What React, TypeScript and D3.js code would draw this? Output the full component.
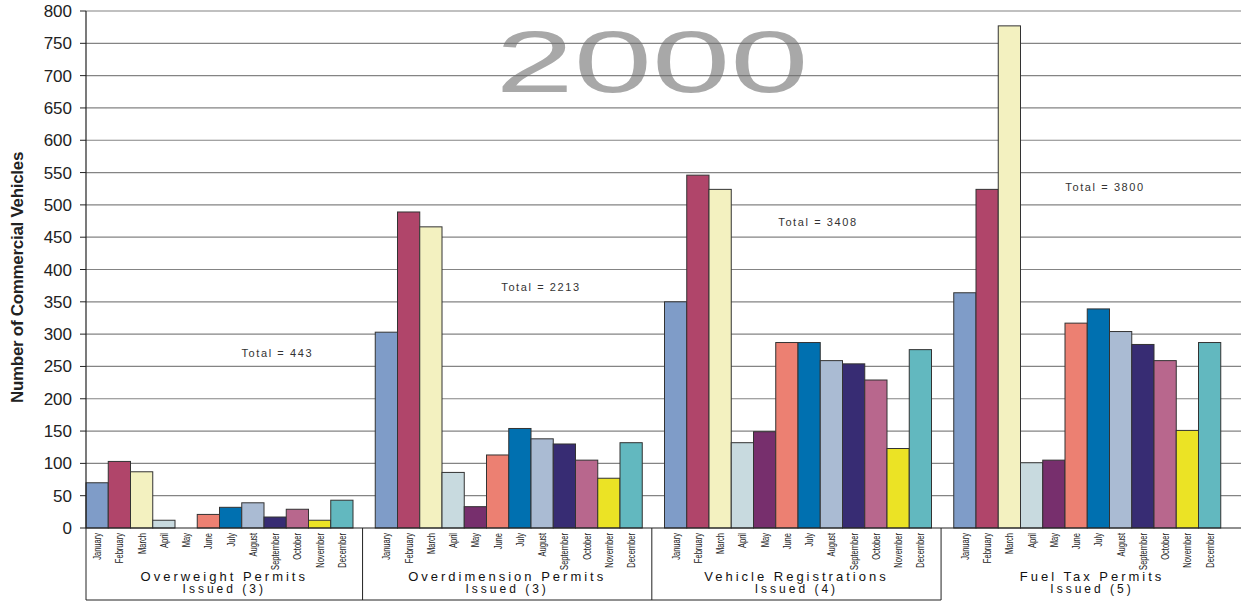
import * as d3 from 'd3';

// months shown under each group
const months = ['January', 'February', 'March', 'April', 'May', 'June', 'July', 'August', 'September', 'October', 'November', 'December'];
const monthColors = ['#7f9cc8', '#b0456a', '#f3f1c0', '#c8dadf', '#772f6d', '#ec8072', '#0070b0', '#aabbd3', '#372c73', '#b8678d', '#ebe325', '#62b8bf'];

const groupTitles = ['Overweight Permits', 'Overdimension Permits', 'Vehicle Registrations', 'Fuel Tax Permits'];
const groupSubtitles = ['Issued (3)', 'Issued (3)', 'Issued (4)', 'Issued (5)'];

// values per month
const overweight = [70, 103, 87, 12, 0, 21, 32, 39, 17, 29, 12, 43];
const overdimension = [303, 489, 466, 86, 33, 113, 154, 138, 130, 105, 77, 132];
const registrations = [350, 546, 524, 132, 149, 287, 287, 259, 254, 229, 123, 276];
const fuelTax = [364, 524, 777, 101, 105, 317, 339, 304, 284, 259, 151, 287];
const seriesByGroup = [overweight, overdimension, registrations, fuelTax];

const totalLabels = ['Total = 443', 'Total = 2213', 'Total = 3408', 'Total = 3800'];
// where each total note sits: slot inside the group, and value on the y axis
const totalSlot = [8.6, 7.45, 6.9, 6.8];
const totalValue = [271, 373, 474, 528];

const yTicks = d3.range(0, 801, 50);
const title = '2000';

const W = 1241;
const H = 602;
const left = 86;
const right = 1243;
const top = 11;
const bottom = 528;

export default function App() {
  const y = d3.scaleLinear().domain([0, 800]).range([bottom, top]);
  const x0 = d3.scaleBand<number>().domain(d3.range(4)).range([left, right]);
  // 13 slots per group, the last one stays empty as a gap
  const x1 = d3.scaleBand<number>().domain(d3.range(13)).range([0, x0.bandwidth()]);
  const slot = x1.bandwidth();
  const dividers = [left, ...d3.range(1, 4).map(g => (x0(g) as number) - slot * 0.57)];
  const font = 'Liberation Sans, Arial, sans-serif';

  return (
    <svg width={W} height={H} style={{ position: 'absolute', left: 0, top: 0, background: '#fff' }}>
      {/* big year title */}
      <text x={652} y={92} textAnchor="middle" fontFamily={font} fontSize={87} fill="#a8a8a8"
        textLength={313} lengthAdjust="spacingAndGlyphs">{title}</text>

      {/* gridlines */}
      {yTicks.filter(t => t > 0).map(t => (
        <line key={t} x1={left} x2={right} y1={y(t)} y2={y(t)} stroke="#6f6f6f" strokeWidth={1.2} opacity={0.85} />
      ))}

      {/* bars */}
      {seriesByGroup.map((vals, g) => (
        <g key={g} transform={`translate(${x0(g)},0)`}>
          {vals.map((v, i) => v > 0 && (
            <rect key={i} x={x1(i)} y={y(v)} width={slot} height={y(0) - y(v)}
              fill={monthColors[i]} stroke="#333" strokeWidth={1} />
          ))}
        </g>
      ))}

      {/* totals */}
      {totalLabels.map((t, g) => (
        <text key={t} x={(x0(g) as number) + totalSlot[g] * slot} y={y(totalValue[g]) + 4}
          textAnchor="middle" fontFamily={font} fontSize={11} letterSpacing={1.6} fill="#333">{t}</text>
      ))}

      {/* y axis */}
      <line x1={left} x2={left} y1={top} y2={bottom} stroke="#222" strokeWidth={1.2} />
      <line x1={left} x2={right} y1={bottom} y2={bottom} stroke="#222" strokeWidth={1.2} />
      {yTicks.map(t => (
        <g key={t}>
          <line x1={left - 6} x2={left} y1={y(t)} y2={y(t)} stroke="#222" />
          <text x={72} y={y(t) + 6} textAnchor="end" fontFamily={font} fontSize={17} fill="#222">{t}</text>
        </g>
      ))}
      <text transform={`translate(23,${(top + bottom) / 2 + 8}) rotate(-90)`} textAnchor="middle"
        fontFamily={font} fontSize={17} fontWeight="bold" fill="#222" letterSpacing={-0.3}>Number of Commercial Vehicles</text>

      {/* month labels */}
      {seriesByGroup.map((_, g) => months.map((m, i) => {
        const cx = (x0(g) as number) + (x1(i) as number) + slot / 2;
        return (
          <text key={`${g}-${i}`} transform={`translate(${cx + 4},${bottom + 5}) rotate(-90) scale(0.72,1)`} textAnchor="end"
            fontFamily={font} fontSize={10.5} fill="#222">{m}</text>
        );
      }))}

      {/* group frame */}
      {dividers.map((d, i) => (
        <line key={i} x1={d} x2={d} y1={bottom} y2={600} stroke="#222" />
      ))}
      <line x1={left} x2={dividers[3]} y1={600} y2={600} stroke="#222" />

      {/* group labels */}
      {groupTitles.map((t, g) => {
        const a = dividers[g];
        const b = g < 3 ? dividers[g + 1] : right;
        const cx = (a + b) / 2;
        return (
          <g key={t}>
            <text x={cx} y={581} textAnchor="middle" fontFamily={font} fontSize={13} fill="#111" letterSpacing={3}>{t}</text>
            <text x={cx} y={593} textAnchor="middle" fontFamily={font} fontSize={12} fill="#111" letterSpacing={3}>{groupSubtitles[g]}</text>
          </g>
        );
      })}
    </svg>
  );
}
